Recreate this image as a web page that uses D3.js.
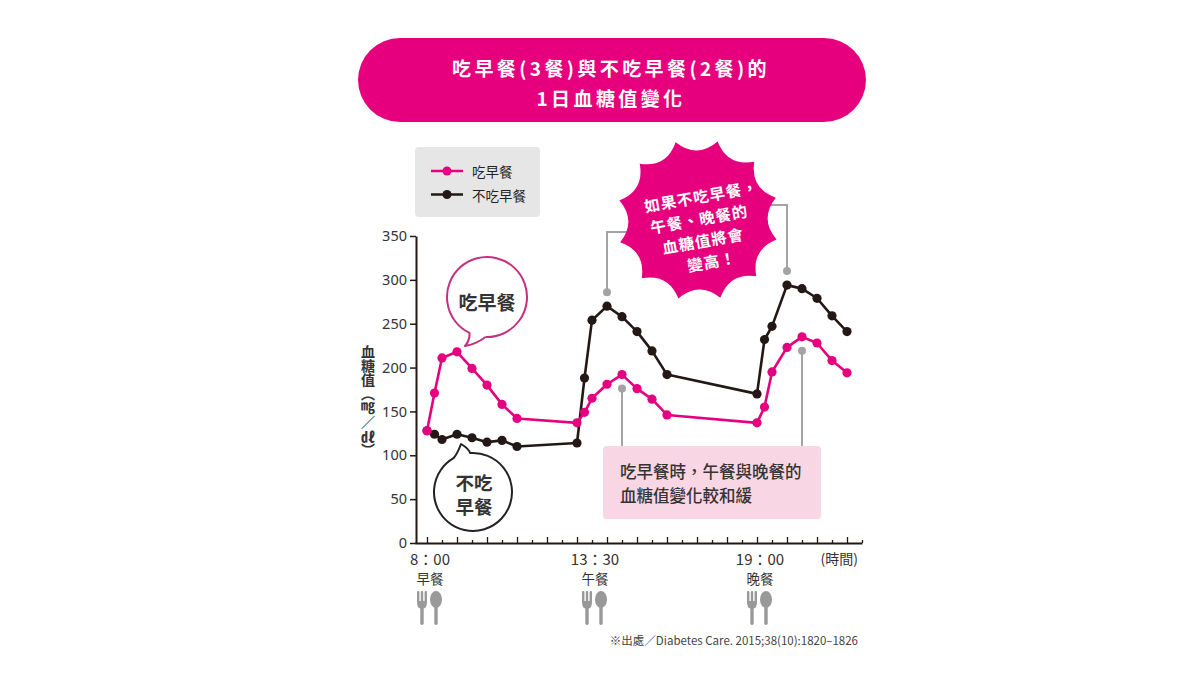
<!DOCTYPE html>
<html>
<head>
<meta charset="utf-8">
<script src="https://cdn.jsdelivr.net/npm/d3@7"></script>
<style>
  body { margin: 0; background: #fff; }
  text { font-family: "Noto Sans CJK TC", "Noto Sans", sans-serif; }
</style>
</head>
<body>
<div id="wrapper"></div>
<script>
// measurement times (hh:mm)
const times = ["8:00", "8:15", "8:30", "9:00", "9:30", "10:00", "10:30", "11:00",
               "13:00", "13:15", "13:30", "14:00", "14:30", "15:00", "15:30", "16:00",
               "19:00", "19:15", "19:30", "20:00", "20:30", "21:00", "21:30", "22:00"]
// 吃早餐 (3餐)
const withBreakfast = [128, 171, 211, 218, 199, 180, 158, 142,
                       137, 149, 165, 181, 192, 176, 164, 146,
                       137, 155, 195, 223, 235, 228, 208, 194]
// 不吃早餐 (2餐)
const skipBreakfast = [128, 124, 118, 124, 120, 115, 117, 110,
                       114, 188, 254, 270, 258, 241, 219, 192,
                       170, 232, 247, 294, 290, 279, 259, 241]
const seriesNames = ["吃早餐", "不吃早餐"]
const yTicks = [0, 50, 100, 150, 200, 250, 300, 350]
const mealTimes = ["8:00", "13:30", "19:00"]
const mealTimeLabels = ["8：00", "13：30", "19：00"]
const mealNames = ["早餐", "午餐", "晚餐"]
// peaks the call-outs point at
const skipPeakTimes = ["14:00", "20:00"]
const eatPeakTimes = ["14:30", "20:30"]

const parseTime = s => {
    const [h, m] = s.split(":").map(Number)
    return h + m / 60
}

const pink = "#e4007f"
const dark = "#231815"
const grey = "#a3a3a3"

const toPoints = values => values.map((v, i) => ({ t: parseTime(times[i]), v: v }))
const eatData = toPoints(withBreakfast)
const skipData = toPoints(skipBreakfast)

const svg = d3.select("#wrapper")
    .append("svg")
        .attr("width", 1200)
        .attr("height", 675)

const xScale = d3.scaleLinear()
    .domain([7.6, 22.5])
    .range([415, 862])
const yScale = d3.scaleLinear()
    .domain([0, 350])
    .range([543, 236])

// ---- title pill
svg.append("rect")
    .attr("x", 358).attr("y", 38)
    .attr("width", 508).attr("height", 84)
    .attr("rx", 42)
    .attr("fill", "#e6007e")
const titleLines = ["吃早餐(3餐)與不吃早餐(2餐)的", "1日血糖值變化"]
svg.selectAll(".title")
    .data(titleLines)
    .join("text")
        .attr("x", 611)
        .attr("y", (d, i) => 67 + i * 30)
        .attr("text-anchor", "middle")
        .attr("dominant-baseline", "central")
        .attr("fill", "#fff")
        .attr("font-size", 19)
        .attr("font-weight", 700)
        .attr("letter-spacing", 3.4)
        .text(d => d)

// ---- legend
svg.append("rect")
    .attr("x", 415).attr("y", 147)
    .attr("width", 125).attr("height", 70)
    .attr("rx", 4)
    .attr("fill", "#e6e6e6")
const legend = svg.selectAll(".legend")
    .data(seriesNames)
    .join("g")
        .attr("transform", (d, i) => `translate(0, ${171 + i * 23.5})`)
legend.append("line")
    .attr("x1", 431).attr("x2", 463)
    .attr("stroke", (d, i) => i ? dark : pink)
    .attr("stroke-width", 2.5)
legend.append("circle")
    .attr("cx", 447).attr("r", 4.5)
    .attr("fill", (d, i) => i ? dark : pink)
legend.append("text")
    .attr("x", 472)
    .attr("dominant-baseline", "central")
    .attr("font-size", 13.5)
    .attr("fill", "#222")
    .text(d => d)

// ---- axes
const yAxis = svg.append("g")
    .attr("transform", "translate(416, 0)")
    .call(d3.axisLeft(yScale).tickValues(yTicks).tickSizeInner(6).tickSizeOuter(0).tickPadding(3))
yAxis.select(".domain").attr("stroke", dark).attr("stroke-width", 2)
yAxis.selectAll(".tick line").attr("stroke", dark).attr("stroke-width", 1.5)
yAxis.selectAll(".tick text")
    .attr("font-size", 14.5)
    .attr("fill", "#333")
    .style("font-family", "'Noto Sans', sans-serif")

const halfHours = d3.range(8, 22.51, 0.5)
const xAxis = svg.append("g")
    .attr("transform", "translate(0, 543)")
    .call(d3.axisBottom(xScale).tickValues(halfHours).tickSizeInner(-6).tickSizeOuter(0).tickFormat(""))
xAxis.select(".domain").attr("stroke", dark).attr("stroke-width", 2)
xAxis.selectAll(".tick line")
    .attr("stroke", dark)
    .attr("stroke-width", 1.3)
    .attr("y2", d => d % 1 === 0 ? -6 : -3)

svg.append("text")
    .attr("x", 368).attr("y", 401)
    .attr("writing-mode", "vertical-rl")
    .attr("text-anchor", "middle")
    .attr("font-size", 14)
    .attr("font-weight", 700)
    .attr("fill", "#333")
    .text("血糖值（㎎／㎗）")

svg.selectAll(".timeLabel")
    .data(mealTimeLabels)
    .join("text")
        .attr("x", (d, i) => xScale(parseTime(mealTimes[i])) + 3)
        .attr("y", 558)
        .attr("text-anchor", "middle")
        .attr("dominant-baseline", "central")
        .attr("font-size", 15)
        .attr("fill", "#333")
        .text(d => d)
svg.append("text")
    .attr("x", 858).attr("y", 558)
    .attr("text-anchor", "end")
    .attr("dominant-baseline", "central")
    .attr("font-size", 14)
    .attr("fill", "#333")
    .text("(時間)")
svg.selectAll(".mealLabel")
    .data(mealNames)
    .join("text")
        .attr("x", (d, i) => xScale(parseTime(mealTimes[i])) + 3)
        .attr("y", 578)
        .attr("text-anchor", "middle")
        .attr("dominant-baseline", "central")
        .attr("font-size", 13.5)
        .attr("fill", "#333")
        .text(d => d)

// fork & spoon under each meal
const cutlery = svg.selectAll(".cutlery")
    .data(mealTimes)
    .join("g")
        .attr("transform", d => `translate(${xScale(parseTime(d)) + 2}, 0)`)
        .attr("fill", "#999")
;[-12, -8.2, -4.4].forEach(px => {
    cutlery.append("rect").attr("x", px).attr("y", 591).attr("width", 2.4).attr("height", 12).attr("rx", 1)
})
cutlery.append("path").attr("d", "M-12,601 L-2,601 Q-2,608.5 -5.5,608.5 L-8.5,608.5 Q-12,608.5 -12,601 Z")
cutlery.append("rect").attr("x", -8.7).attr("y", 606).attr("width", 3.4).attr("height", 19).attr("rx", 1.7)
cutlery.append("ellipse").attr("cx", 7).attr("cy", 599.5).attr("rx", 6).attr("ry", 8.5)
cutlery.append("rect").attr("x", 5.3).attr("y", 604).attr("width", 3.4).attr("height", 21).attr("rx", 1.7)

// ---- series
const lineGenerator = d3.line()
    .x(d => xScale(d.t))
    .y(d => yScale(d.v))
const series = [{ data: skipData, color: dark }, { data: eatData, color: pink }]
series.forEach(s => {
    svg.append("path")
        .attr("d", lineGenerator(s.data))
        .attr("fill", "none")
        .attr("stroke", s.color)
        .attr("stroke-width", 2.6)
        .attr("stroke-linejoin", "round")
    svg.append("g")
        .selectAll("circle")
        .data(s.data)
        .join("circle")
            .attr("cx", d => xScale(d.t))
            .attr("cy", d => yScale(d.v))
            .attr("r", 4.6)
            .attr("fill", s.color)
})

const valueAt = (data, time) => data.find(d => d.t === parseTime(time)).v

// ---- pink note box + connectors
const eatPeaks = eatPeakTimes.map(t => ({ x: xScale(parseTime(t)), y: yScale(valueAt(eatData, t)) + 14 }))
eatPeaks.forEach(p => {
    svg.append("line")
        .attr("x1", p.x).attr("x2", p.x)
        .attr("y1", p.y).attr("y2", 447)
        .attr("stroke", grey).attr("stroke-width", 2)
    svg.append("circle").attr("cx", p.x).attr("cy", p.y).attr("r", 4).attr("fill", grey)
})
svg.append("rect")
    .attr("x", 603).attr("y", 446)
    .attr("width", 218).attr("height", 73)
    .attr("rx", 4)
    .attr("fill", "#f9d6e4")
const noteLines = ["吃早餐時，午餐與晚餐的", "血糖值變化較和緩"]
svg.selectAll(".note")
    .data(noteLines)
    .join("text")
        .attr("x", 620)
        .attr("y", (d, i) => 471 + i * 23.5)
        .attr("dominant-baseline", "central")
        .attr("font-size", 16.5)
        .attr("font-weight", 500)
        .attr("fill", "#333")
        .text(d => d)

// ---- starburst + connectors
const skipPeaks = skipPeakTimes.map(t => ({ x: xScale(parseTime(t)), y: yScale(valueAt(skipData, t)) - 14 }))
svg.append("path")
    .attr("d", `M${skipPeaks[0].x},${skipPeaks[0].y} V232 H640`)
    .attr("fill", "none").attr("stroke", grey).attr("stroke-width", 2)
svg.append("path")
    .attr("d", `M${skipPeaks[1].x},${skipPeaks[1].y} V205 H760`)
    .attr("fill", "none").attr("stroke", grey).attr("stroke-width", 2)
skipPeaks.forEach(p => {
    svg.append("circle").attr("cx", p.x).attr("cy", p.y).attr("r", 4).attr("fill", grey)
})

// scalloped burst: outer points joined by inward-curving arcs
const spikes = 12
const outerR = 81, ctrlR = 61
const burstPath = d3.path()
d3.range(spikes + 1).forEach(i => {
    const a = (i / spikes) * 2 * Math.PI - 1.85
    const am = a - Math.PI / spikes
    const px = outerR * Math.cos(a), py = outerR * Math.sin(a)
    if (i === 0) burstPath.moveTo(px, py)
    else burstPath.quadraticCurveTo(ctrlR * Math.cos(am), ctrlR * Math.sin(am), px, py)
})
burstPath.closePath()
svg.append("path")
    .attr("transform", "translate(698, 220)")
    .attr("d", burstPath.toString())
    .attr("fill", "#e6007e")
const burstLines = ["如果不吃早餐，", "午餐、晚餐的", "血糖值將會", "變高！"]
svg.append("g")
    .attr("transform", "translate(701, 229) rotate(-10)")
    .selectAll("text")
    .data(burstLines)
    .join("text")
        .attr("y", (d, i) => (i - 1.5) * 22)
        .attr("x", (d, i) => i === 0 ? 6 : (i === 3 ? 5 : 0))
        .attr("text-anchor", "middle")
        .attr("dominant-baseline", "central")
        .attr("font-size", 15.5)
        .attr("font-weight", 700)
        .attr("letter-spacing", 1)
        .attr("fill", "#fff")
        .text(d => d)

// ---- speech bubbles (circle drawn the long way round, then the tail)
const bubble = (cx, cy, r, a0, a1, tip, stroke) => {
    const p = d3.path()
    const rad = a => a * Math.PI / 180
    const sx = cx + r * Math.cos(rad(a0)), sy = cy + r * Math.sin(rad(a0))
    const ex = cx + r * Math.cos(rad(a1)), ey = cy + r * Math.sin(rad(a1))
    p.moveTo(sx, sy)
    p.arc(cx, cy, r, rad(a0), rad(a1), true)
    p.quadraticCurveTo((ex + tip[0]) / 2 + 3, (ey + tip[1]) / 2, tip[0], tip[1])
    p.quadraticCurveTo((sx + tip[0]) / 2, (sy + tip[1]) / 2 + 3, sx, sy)
    svg.append("path")
        .attr("d", p.toString())
        .attr("fill", "#fff")
        .attr("stroke", stroke)
        .attr("stroke-width", 2)
        .attr("stroke-linejoin", "round")
}
bubble(487, 297, 40, 92, 116, [465, 346], "#c2307f")
svg.append("text")
    .attr("x", 487).attr("y", 301)
    .attr("text-anchor", "middle")
    .attr("dominant-baseline", "central")
    .attr("font-size", 19)
    .attr("font-weight", 700)
    .attr("fill", "#333")
    .text("吃早餐")

bubble(473, 492, 39, 240, 266, [461, 444], "#222")
;["不吃", "早餐"].forEach((s, i) => {
    svg.append("text")
        .attr("x", 474).attr("y", 482 + i * 24)
        .attr("text-anchor", "middle")
        .attr("dominant-baseline", "central")
        .attr("font-size", 18.5)
        .attr("font-weight", 700)
        .attr("fill", "#333")
        .text(s)
})

// ---- source
svg.append("text")
    .attr("x", 858).attr("y", 640)
    .attr("text-anchor", "end")
    .attr("dominant-baseline", "central")
    .attr("font-size", 11.5)
    .attr("fill", "#444")
    .text("※出處／Diabetes Care. 2015;38(10):1820–1826")
</script>
</body>
</html>
